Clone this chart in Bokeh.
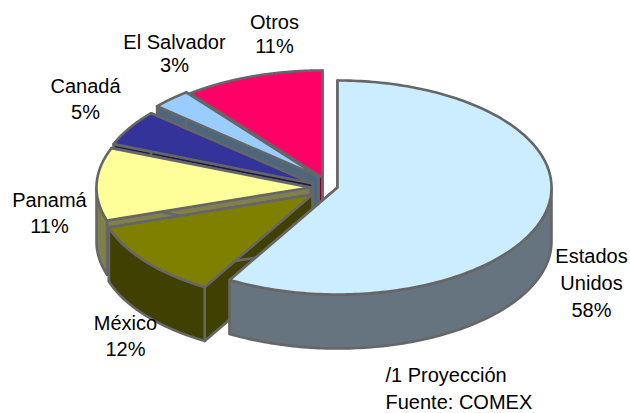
import numpy as np
from bokeh.plotting import figure
from bokeh.embed import file_html
from bokeh.resources import INLINE
from bokeh.core.properties import value

# Values, starting at 12 o'clock and going clockwise
categories = ["Estados Unidos", "México", "Panamá", "Canadá", "El Salvador", "Otros"]
shares = [58.4, 11.6, 11.0, 5.4, 3.0, 10.6]
top_colors = ["#CCECFF", "#808000", "#FFFF99", "#333399", "#99CCFF", "#FF0066"]
wall_colors = ["#66747F", "#404000", "#80804D", "#1A1A4D", "#4D6680", "#800033"]
apex_x = [337, 312, 310, 312, 318, 322]
apex_y = [187, 194, 187, 183, 176, 177]

label_lines = [["Estados", "Unidos", "58%"], ["México", "12%"], ["Panamá", "11%"],
               ["Canadá", "5%"], ["El Salvador", "3%"], ["Otros", "11%"]]
label_x = [591, 125, 49, 85, 174, 274]
label_y = [[255, 282, 309], [322, 348], [199, 225], [85, 111], [41, 64], [21, 45]]
note_lines = ["/1 Proyección", "Fuente: COMEX"]
note_x = 385
note_y = [374, 401]

RX, RY, DEPTH = 214.0, 107.0, 54.0
OUTLINE = "#666666"
FONT = value("Liberation Sans")

p = figure(width=630, height=413, x_range=(0, 630), y_range=(413, 0),
           output_backend="svg", toolbar_location=None, min_border=0)
p.axis.visible = False
p.grid.visible = False
p.outline_line_color = None
p.background_fill_color = "white"
p.border_fill_color = "white"

cum = np.cumsum([0] + shares) / sum(shares) * 2 * np.pi


def rim(cx, cy, t):
    return cx + RX * np.sin(t), cy - RY * np.cos(t)


def face(xs, ys, color):
    p.patch(list(xs), list(ys), fill_color=color, line_color=OUTLINE,
            line_width=2.6, line_join="round")


# back to front: last slices first, the large front slice last
for i in [5, 4, 3, 2, 1, 0]:
    a0, a1 = cum[i], cum[i + 1]
    cx, cy = apex_x[i], apex_y[i]
    # cut faces
    for a in (a0, a1):
        rx_, ry_ = rim(cx, cy, a)
        face([cx, rx_, rx_, cx], [cy, ry_, ry_ + DEPTH, cy + DEPTH], wall_colors[i])
    # outer wall: only where the rim faces the viewer
    lo, hi = max(a0, np.pi / 2), min(a1, 3 * np.pi / 2)
    if hi > lo:
        t = np.linspace(lo, hi, 120)
        wx, wy = rim(cx, cy, t)
        face(np.r_[wx, wx[::-1]], np.r_[wy, wy[::-1] + DEPTH], wall_colors[i])
    # top face
    t = np.linspace(a0, a1, 200)
    tx, ty = rim(cx, cy, t)
    face(np.r_[cx, tx], np.r_[cy, ty], top_colors[i])

for lines, x, ys in zip(label_lines, label_x, label_y):
    p.text([x] * len(lines), ys, text=lines, text_font=FONT, text_font_size="20px",
           text_align="center", text_baseline="middle", text_color="#000000")
p.text([note_x] * 2, note_y, text=note_lines, text_font=FONT, text_font_size="20px",
       text_align="left", text_baseline="middle", text_color="#000000")

open("out.html", "w").write(file_html(p, INLINE))
